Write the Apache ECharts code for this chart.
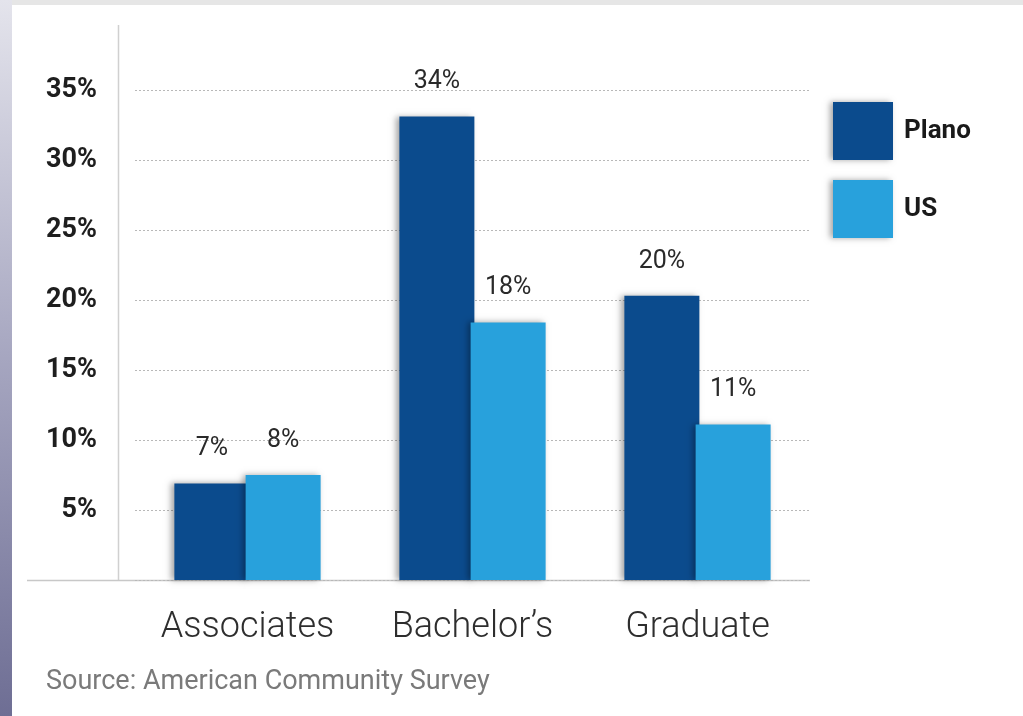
<!DOCTYPE html>
<html>
<head>
<meta charset="utf-8">
<script src="https://cdn.jsdelivr.net/npm/echarts@6/dist/echarts.min.js"></script>
<style>
  html, body { margin: 0; padding: 0; background: #fff; }
  #chart { width: 1023px; height: 716px; }
</style>
</head>
<body>
<div id="chart"></div>
<script>
const categories = ['Associates', 'Bachelor\u2019s', 'Graduate'];
const seriesNames = ['Plano', 'US'];
const plano = [6.9, 33.1, 20.3];
const us = [7.5, 18.4, 11.1];
const planoLabels = ['7%', '34%', '20%'];
const usLabels = ['8%', '18%', '11%'];
const yTicks = [0, 5, 10, 15, 20, 25, 30, 35];

const chart = echarts.init(document.getElementById('chart'));

const barShadow = {
  shadowBlur: 6,
  shadowOffsetX: -3,
  shadowOffsetY: 0,
  shadowColor: 'rgba(0,0,0,0.35)'
};

const labelStyle = (labels) => ({
  show: true,
  position: 'top',
  distance: 22,
  fontFamily: 'Roboto, sans-serif',
  fontSize: 25,
  color: '#2a2a2a',
  formatter: (p) => labels[p.dataIndex]
});

const option = {
  backgroundColor: '#fff',
  animation: false,
  title: {
    text: 'Source: American Community Survey',
    left: 41,
    top: 664,
    textStyle: {
      fontFamily: 'Roboto, sans-serif',
      fontWeight: 'normal',
      fontSize: 27,
      color: '#7a7a7a'
    }
  },
  legend: {
    orient: 'vertical',
    left: 833,
    top: 102,
    padding: 0,
    itemWidth: 60,
    itemHeight: 58,
    itemGap: 20,
    icon: 'rect',
    textStyle: {
      fontFamily: 'Roboto, sans-serif',
      fontWeight: 'bold',
      fontSize: 26,
      color: '#1a1a1a',
      padding: [0, 0, 0, 6]
    },
    itemStyle: barShadow,
    data: seriesNames
  },
  grid: { left: 135, right: 213, top: 90, bottom: 136 },
  xAxis: {
    type: 'category',
    data: categories,
    axisLine: { show: false },
    axisTick: { show: false },
    axisLabel: {
      interval: 0,
      hideOverlap: false,
      margin: 30,
      fontFamily: 'Roboto, sans-serif',
      fontWeight: 300,
      fontSize: 36,
      color: '#2e2e2e'
    }
  },
  yAxis: {
    type: 'value',
    min: yTicks[0],
    max: yTicks[yTicks.length - 1],
    interval: 5,
    axisLine: { show: false },
    axisTick: { show: false },
    axisLabel: {
      margin: 38,
      fontFamily: 'Roboto, sans-serif',
      fontWeight: 'bold',
      fontSize: 27,
      color: '#1e1e1e',
      formatter: (v) => (v === 0 ? '' : v + '%')
    },
    splitLine: {
      lineStyle: { color: '#b8b8b8', type: [2, 2], width: 1 }
    }
  },
  series: [
    {
      name: seriesNames[0],
      type: 'bar',
      data: plano,
      barWidth: 75,
      barGap: '-5%',
      itemStyle: Object.assign({ color: '#0b4b8d' }, barShadow),
      label: labelStyle(planoLabels)
    },
    {
      name: seriesNames[1],
      type: 'bar',
      data: us,
      barWidth: 75,
      itemStyle: Object.assign({ color: '#28a1dc' }, barShadow),
      label: labelStyle(usLabels)
    }
  ],
  graphic: [
    {
      type: 'rect',
      left: 0, top: 0,
      shape: { width: 1023, height: 5 },
      style: { fill: '#e6e6e6' },
      silent: true
    },
    {
      type: 'rect',
      left: 0, top: 0,
      shape: { width: 12, height: 716 },
      style: {
        fill: new echarts.graphic.LinearGradient(0, 0, 0, 1, [
          { offset: 0, color: '#e4e4ec' },
          { offset: 0.5, color: '#a6a6c0' },
          { offset: 1, color: '#6e6e94' }
        ])
      },
      silent: true
    },
    {
      type: 'line',
      shape: { x1: 118.5, y1: 25, x2: 118.5, y2: 580 },
      style: { stroke: '#d0d0d0', lineWidth: 1.5 },
      silent: true
    },
    {
      type: 'line',
      shape: { x1: 27, y1: 580.5, x2: 810, y2: 580.5 },
      style: { stroke: '#c8c8c8', lineWidth: 1.5 },
      silent: true
    }
  ]
};

chart.setOption(option);
</script>
</body>
</html>
